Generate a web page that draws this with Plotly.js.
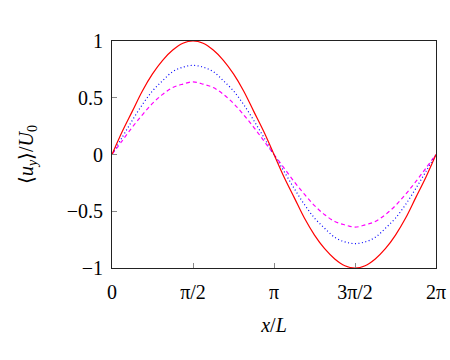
<!DOCTYPE html>
<html>
<head>
<meta charset="utf-8">
<script src="https://cdn.plot.ly/plotly-3.0.1.min.js"></script>
<style>html,body{margin:0;padding:0;background:#fff;}#chart{width:450px;height:360px;}</style>
</head>
<body>
<div id="chart"></div>
<script>
// x positions in units of pi (0 .. 2), step pi/16
const xPi = [0,0.0625,0.125,0.1875,0.25,0.3125,0.375,0.4375,0.5,0.5625,0.625,0.6875,0.75,0.8125,0.875,0.9375,1,
  1.0625,1.125,1.1875,1.25,1.3125,1.375,1.4375,1.5,1.5625,1.625,1.6875,1.75,1.8125,1.875,1.9375,2];
// red solid curve (amplitude 1)
const uRed = [0,0.20,0.38,0.56,0.71,0.83,0.92,0.98,1.00,0.98,0.92,0.83,0.71,0.56,0.38,0.20,0,
  -0.20,-0.38,-0.56,-0.71,-0.83,-0.92,-0.98,-1.00,-0.98,-0.92,-0.83,-0.71,-0.56,-0.38,-0.20,0];
// blue dotted curve (amplitude ~0.785)
const uBlue = [0,0.15,0.30,0.44,0.56,0.65,0.73,0.77,0.785,0.77,0.73,0.65,0.56,0.44,0.30,0.15,0,
  -0.15,-0.30,-0.44,-0.56,-0.65,-0.73,-0.77,-0.785,-0.77,-0.73,-0.65,-0.56,-0.44,-0.30,-0.15,0];
// magenta dashed curve (amplitude ~0.64)
const uMag = [0,0.12,0.24,0.35,0.45,0.53,0.59,0.62,0.64,0.62,0.59,0.53,0.45,0.35,0.24,0.12,0,
  -0.12,-0.24,-0.35,-0.45,-0.53,-0.59,-0.62,-0.64,-0.62,-0.59,-0.53,-0.45,-0.35,-0.24,-0.12,0];
const xTickVals = [0,0.5,1,1.5,2];
const xTickText = ['0','π/2','π','3π/2','2π'];
const yTickVals = [-1,-0.5,0,0.5,1];
const yTickText = ['−1','−0.5','0','0.5','1'];

const font = {family: 'Liberation Serif, DejaVu Serif, serif', size: 20, color: '#000'};
const traces = [
  {x: xPi, y: uMag, mode: 'lines', line: {color: '#ff00ff', width: 1.2, dash: '4px,3px', shape: 'spline'}},
  {x: xPi, y: uBlue, mode: 'lines', line: {color: '#0000ff', width: 1.2, dash: '1px,2.5px', shape: 'spline'}},
  {x: xPi, y: uRed, mode: 'lines', line: {color: '#ff0000', width: 1.2, shape: 'spline'}}
];
const layout = {
  width: 450, height: 360,
  margin: {l: 112, r: 14, t: 41, b: 92},
  paper_bgcolor: '#fff', plot_bgcolor: '#fff',
  showlegend: false,
  font: font,
  xaxis: {
    range: [0, 2], tickvals: xTickVals, ticktext: xTickText,
    showgrid: false, zeroline: false,
    showline: true, mirror: true, linecolor: '#222', linewidth: 1,
    ticks: 'inside', ticklen: 5, tickcolor: '#888', tickwidth: 1,
    tickfont: font, ticklabelstandoff: 6,
    title: {text: '<i>x</i>/<i>L</i>', font: font, standoff: 15}
  },
  yaxis: {
    range: [-1, 1], tickvals: yTickVals, ticktext: yTickText,
    showgrid: false, zeroline: false,
    showline: true, mirror: true, linecolor: '#222', linewidth: 1,
    ticks: 'inside', ticklen: 5, tickcolor: '#888', tickwidth: 1,
    tickfont: font, ticklabelstandoff: 4,
    title: {text: '⟨<i>u</i><sub><i>y</i></sub>⟩/<i>U</i><sub>0</sub>', font: font, standoff: 27}
  }
};
Plotly.newPlot('chart', traces, layout, {staticPlot: true, displayModeBar: false});
</script>
</body>
</html>
